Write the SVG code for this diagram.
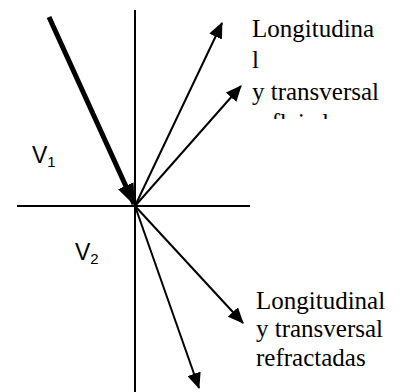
<svg xmlns="http://www.w3.org/2000/svg" width="406" height="392" viewBox="0 0 406 392">
<style>
.ax{stroke:#000;stroke-width:2;fill:none}
.ar{stroke:#000;stroke-width:2;fill:none;marker-end:url(#ah)}
.lbl{font-family:"Liberation Serif","Times New Roman",serif;font-size:25px;fill:#000}
.v{font-family:"Liberation Sans",Arial,sans-serif;font-size:23px;fill:#000}
.sub{font-size:15px}
</style>
<defs>
<marker id="ah" markerUnits="userSpaceOnUse" viewBox="0 0 16 14" markerWidth="16" markerHeight="14" refX="15" refY="7" orient="auto">
<path d="M0,0 L16,7 L0,14 z" fill="#000"/>
</marker>
<marker id="ahb" markerUnits="userSpaceOnUse" viewBox="0 0 22 17" markerWidth="22" markerHeight="17" refX="20" refY="8.5" orient="auto">
<path d="M0,0 L22,8.5 L0,17 z" fill="#000"/>
</marker>
<clipPath id="clipTop"><rect x="240" y="0" width="166" height="119"/></clipPath>
</defs>
<g id="axes">
<line class="ax" x1="135" y1="10" x2="135" y2="392"/>
<line class="ax" x1="17" y1="206" x2="250" y2="206"/>
</g>
<g id="connectors">
<line x1="49" y1="17" x2="134" y2="204" stroke="#000" stroke-width="5" marker-end="url(#ahb)"/>
<line class="ar" x1="135" y1="206" x2="222" y2="23"/>
<line class="ar" x1="135" y1="206" x2="241" y2="86"/>
<line class="ar" x1="135" y1="206" x2="243" y2="323"/>
<line class="ar" x1="135" y1="206" x2="199" y2="388"/>
</g>
<g id="label-reflejadas" clip-path="url(#clipTop)">
<text class="lbl" x="252" y="37">Longitudina</text>
<text class="lbl" x="252" y="68">l</text>
<text class="lbl" x="252" y="100">y transversal</text>
<text class="lbl" x="252" y="131">reflejadas</text>
</g>
<g id="label-refractadas">
<text class="lbl" x="256" y="309">Longitudinal</text>
<text class="lbl" x="256" y="337">y transversal</text>
<text class="lbl" x="256" y="366">refractadas</text>
</g>
<g id="label-v1"><text class="v" x="32" y="163">V<tspan class="sub" dy="4">1</tspan></text></g>
<g id="label-v2"><text class="v" x="75" y="260">V<tspan class="sub" dy="4">2</tspan></text></g>
</svg>
